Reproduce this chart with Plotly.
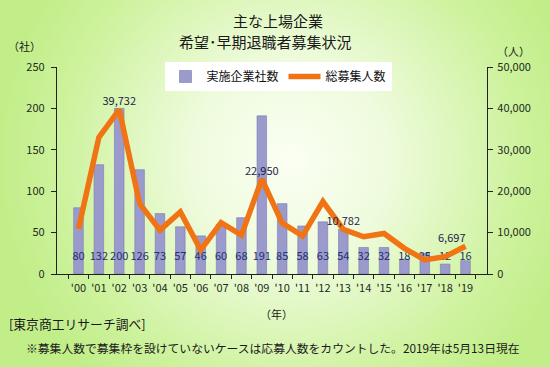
import base64
import plotly.graph_objects as go

years = ["'00", "'01", "'02", "'03", "'04", "'05", "'06", "'07", "'08", "'09",
         "'10", "'11", "'12", "'13", "'14", "'15", "'16", "'17", "'18", "'19"]
companies = [80, 132, 200, 126, 73, 57, 46, 60, 68, 191,
             85, 58, 63, 54, 32, 32, 18, 25, 12, 16]
people = [10900, 33000, 39732, 17000, 10600, 15000, 5800, 12400, 9400, 22950,
          12300, 9200, 17500, 10782, 9000, 9800, 6200, 3400, 4200, 6697]
labeled_years = ["'02", "'09", "'13", "'19"]

FONT = "Noto Sans CJK JP"
TXT = "#1e2a1e"

# Plot area geometry (pixels)
W, H = 550, 367
L, R, T, B = 57, 63, 67, 93
PW, PH = W - L - R, H - T - B

svg = f'''<svg xmlns="http://www.w3.org/2000/svg" width="{W}" height="{H}" viewBox="0 0 {W} {H}" preserveAspectRatio="none">
<defs><radialGradient id="g" gradientUnits="userSpaceOnUse" cx="290" cy="160" r="290">
<stop offset="0" stop-color="#fbfff4"/><stop offset="0.35" stop-color="#eefbdc"/>
<stop offset="0.8" stop-color="#cdf29c"/><stop offset="1" stop-color="#c2ee8a"/></radialGradient></defs>
<rect width="{W}" height="{H}" fill="url(#g)"/></svg>'''
bg_uri = "data:image/svg+xml;base64," + base64.b64encode(svg.encode()).decode()

def px_x(x):
    return (x - L) / PW

def px_y(y):
    return (H - B - y) / PH

fig = go.Figure()

fig.add_trace(go.Bar(
    x=years, y=companies, name="実施企業社数",
    marker=dict(color="#9a9acc", line=dict(color="#7a7aac", width=0.6)),
    yaxis="y",
))

line_text = [f"{v:,}<br> " if y in labeled_years else "" for y, v in zip(years, people)]
line_pos = ["middle left" if y == years[-1] else "middle center" for y in years]
fig.add_trace(go.Scatter(
    x=years, y=people, name="総募集人数", mode="lines+text",
    line=dict(color="#f07414", width=5.5),
    text=line_text, textposition=line_pos,
    textfont=dict(family=FONT, size=11, color="#1c2448"),
    yaxis="y2", cliponaxis=False,
))

fig.add_trace(go.Scatter(
    x=years, y=[20] * len(years), mode="text",
    text=[str(v) for v in companies], textposition="middle center",
    textfont=dict(family=FONT, size=11, color="#22306e"),
    showlegend=False, yaxis="y", hoverinfo="skip",
))

fig.update_layout(
    width=W, height=H,
    margin=dict(l=L, r=R, t=T, b=B, autoexpand=False),
    paper_bgcolor="#c8f094",
    plot_bgcolor="rgba(0,0,0,0)",
    font=dict(family=FONT, size=11, color=TXT),
    bargap=0.53,
    showlegend=True,
    legend=dict(orientation="h", x=px_x(278), xanchor="center", y=px_y(62), yanchor="top",
                bgcolor="white", font=dict(family=FONT, size=12, color="#111"),
                itemwidth=32, tracegroupgap=0),
    xaxis=dict(type="category", showline=True, linecolor="#222", linewidth=1.2,
               ticks="outside", ticklen=4, tickcolor="#222", tickson="boundaries",
               tickangle=0, automargin=False, ticklabelstandoff=4,
               tickfont=dict(family=FONT, size=11, color=TXT), showgrid=False),
    yaxis=dict(range=[0, 250], dtick=50, showline=True, linecolor="#222", linewidth=1.2,
               ticks="outside", ticklen=5, tickcolor="#222", showgrid=False, zeroline=False,
               automargin=False,
               tickfont=dict(family=FONT, size=11, color=TXT), ticklabelstandoff=4),
    yaxis2=dict(range=[0, 50000], dtick=10000, overlaying="y", side="right",
                showline=True, linecolor="#222", linewidth=1.2, ticks="outside", ticklen=5,
                tickcolor="#222", showgrid=False, zeroline=False, tickformat=",d",
                automargin=False,
                tickfont=dict(family=FONT, size=11, color=TXT), ticklabelstandoff=2),
    images=[dict(source=bg_uri, xref="paper", yref="paper",
                 x=px_x(0), y=px_y(0), sizex=W / PW, sizey=H / PH,
                 xanchor="left", yanchor="top", sizing="stretch", layer="below")],
)

ann = [
    dict(text="主な上場企業", x=px_x(278), y=px_y(20), size=15),
    dict(text="希望･早期退職者募集状況", x=px_x(265), y=px_y(42), size=15),
    dict(text="（社）", x=px_x(24), y=px_y(46), size=11),
    dict(text="（人）", x=px_x(513), y=px_y(51), size=11),
    dict(text="（年）", x=px_x(276), y=px_y(314), size=11),
]
for a in ann:
    fig.add_annotation(text=a["text"], x=a["x"], y=a["y"], xref="paper", yref="paper",
                       xanchor="center", yanchor="middle", showarrow=False,
                       font=dict(family=FONT, size=a["size"], color="#1a1a1a"))

fig.add_annotation(text="[東京商工リサーチ調べ]", x=px_x(7), y=px_y(323), xref="paper", yref="paper",
                   xanchor="left", yanchor="middle", showarrow=False,
                   font=dict(family=FONT, size=12.8, color="#1a1a1a"))
fig.add_annotation(text="※募集人数で募集枠を設けていないケースは応募人数をカウントした。2019年は5月13日現在",
                   x=px_x(24), y=px_y(347), xref="paper", yref="paper",
                   xanchor="left", yanchor="middle", showarrow=False,
                   font=dict(family=FONT, size=11.8, color="#1a1a1a"))

fig.write_html("out.html", config={"displayModeBar": False},
               post_script="document.body.style.margin='0';document.body.style.overflow='hidden';")
